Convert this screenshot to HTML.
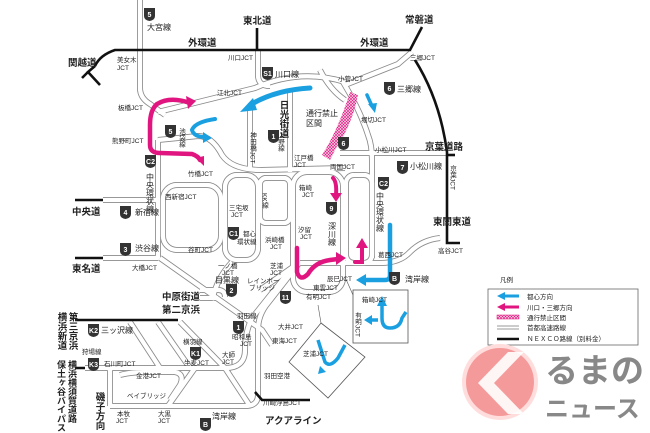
<!DOCTYPE html>
<html><head><meta charset="utf-8"><style>
body{margin:0;background:#fff;width:650px;height:433px;overflow:hidden}
svg{display:block}
text{font-family:"Liberation Sans","Noto Sans CJK JP",sans-serif;fill:#222}
.s{font-size:6.5px}
.m{font-size:8px}
.b{font-size:9.5px;font-weight:bold}
.sh{font-size:7px;fill:#fff;font-weight:bold}
</style></head><body>
<svg width="650" height="433" viewBox="0 0 650 433" xmlns="http://www.w3.org/2000/svg">
<defs>
<pattern id="hatch" width="3" height="3" patternUnits="userSpaceOnUse"><rect width="3" height="3" fill="#f7d0e6"/><path d="M0,0L3,3M3,0L0,3" stroke="#e0157f" stroke-width="0.6"/></pattern>
<g id="roads" fill="none">
<path d="M140,0 V88 Q140,98 150,104 L165,115"/>
<path d="M158,112 L255,88 Q300,68 345,82"/>
<path d="M258,50 V75 Q258,86 270,86"/>
<path d="M345,85 L398,64 L412,52"/>
<path d="M343,82 Q360,110 368,135 Q372,145 372,160 V258"/>
<path d="M158,140 L198,136 Q212,136 222,155 Q232,170 262,170 L345,168"/>
<path d="M158,140 V258"/>
<path d="M103,200 H158"/>
<path d="M103,258 H158"/>
<path d="M340,153 H447"/>
<path d="M160,258 L262,330 L272,345"/>
<rect x="163" y="185" width="58" height="65" rx="14"/>
<rect x="225" y="175" width="33" height="85" rx="12"/>
<rect x="260" y="178" width="30" height="45" rx="6"/>
<rect x="293" y="172" width="50" height="120" rx="14"/>
<rect x="346" y="175" width="26" height="88" rx="8"/>
<path d="M440,238 Q422,240 410,252 Q400,263 380,263 H300"/>
<path d="M300,262 L268,303 Q258,315 258,330 V395 Q258,406 245,406 H110"/>
<path d="M292,268 L252,318 Q245,332 245,350 Q245,368 225,368 H85"/>
<path d="M250,110 V170"/>
<path d="M290,90 V172"/>
<path d="M232,262 Q220,275 215,290 L212,300"/>
<path d="M130,322 L160,368"/>
<path d="M158,322 L190,368"/>
<path d="M180,322 L225,368"/>
<path d="M195,368 L168,406"/>
<path d="M225,368 L250,406"/>
<path d="M110,368 V406"/>
<path d="M120,375 Q130,372 150,372 H175 Q185,374 180,385 L170,400"/>
<path d="M200,290 H218 Q225,290 225,297 M200,298 H218"/>
<path d="M260,290 L300,262"/>
<path d="M320,70 Q330,90 345,100"/>
</g>
</defs>
<use href="#roads" stroke="#8a8a8a" stroke-width="6"/>
<use href="#roads" stroke="#fff" stroke-width="4.3"/>
<path d="M358,95 Q352,125 336,148 L330,160 L322,155 Q338,130 350,92 Z" fill="url(#hatch)"/>
<g stroke="#111" stroke-width="2.6" fill="none">
<path d="M100,85 L88,72 L95,66 M88,72 L82,78 M95,66 Q100,55 115,50 H410 L422,27"/>
<path d="M257,28 V50"/>
<path d="M415,60 Q440,100 447,152 V235"/>
<path d="M447,155 H455"/>
<path d="M447,235 V243 H460"/>
<path d="M75,200 H103 M75,258 H103 M75,320 H178 M75,368 H85"/>
<path d="M255,392 L262,400 H310"/>
</g>
<g fill="none" stroke-linecap="round">
<path d="M190,103 Q170,96 157,104 Q150,110 150,125 V145 Q150,153 160,153 L192,154 Q198,156 200,160" stroke="#e0157f" stroke-width="4.5"/>
<path d="M310,88 Q275,90 250,105" stroke="#1aa0e0" stroke-width="5"/>
<path d="M215,119 Q195,122 192,130 Q194,137 205,137" stroke="#1aa0e0" stroke-width="4"/>
<path d="M367,95 L372,106" stroke="#1aa0e0" stroke-width="3.5"/>
<path d="M390,225 V275 Q390,280 385,280 H365" stroke="#1aa0e0" stroke-width="4.5"/>
<path d="M333,178 Q337,182 336,195" stroke="#e0157f" stroke-width="4"/>
<path d="M297,248 V272 Q300,282 308,274 Q315,262 330,260 L338,259" stroke="#e0157f" stroke-width="4.5"/>
<path d="M355,262 H362 V245" stroke="#e0157f" stroke-width="4"/>
</g>
<g stroke="none">
<polygon points="196,101 186,96 188,109" fill="#e0157f"/>
<polygon points="204,166 196,158 204,156" fill="#e0157f"/>
<polygon points="240,112 253,98 257,110" fill="#1aa0e0"/>
<polygon points="212,138 203,132 203,143" fill="#1aa0e0"/>
<polygon points="375,113 368,104 377,103" fill="#1aa0e0"/>
<polygon points="356,280 366,274 366,286" fill="#1aa0e0"/>
<polygon points="336,202 330,193 342,193" fill="#e0157f"/>
<polygon points="346,258 336,252 336,265" fill="#e0157f"/>
<polygon points="362,238 356,248 368,248" fill="#e0157f"/>
</g>
<rect x="353" y="290" width="55" height="53" fill="#fff" stroke="#555" stroke-width="0.8"/>
<path d="M345,277 L353,295" stroke="#555" stroke-width="0.6"/>
<polygon points="321,323 365,357 328,398 289,362" fill="#fff" stroke="#555" stroke-width="0.8"/>
<path d="M318,305 L321,323" stroke="#555" stroke-width="0.6"/>
<g fill="none" stroke="#1aa0e0" stroke-width="3.5">
<path d="M382,302 V318 Q382,328 390,328 Q400,328 402,318 L406,312 M368,320 H378"/>
<path d="M318,340 L325,362 Q330,368 338,358 L345,345"/>
</g>
<polygon points="382,296 377,306 387,306" fill="#1aa0e0"/>
<polygon points="364,320 372,315 372,325" fill="#1aa0e0"/>
<polygon points="320,366 326,372 318,374" fill="#1aa0e0"/>
<g>
<g transform="translate(144,8)"><path d="M0,0h11v8q0,4-5.5,5q-5.5-1-5.5-5z" fill="#333"/><text x="5.5" y="9" class="sh" text-anchor="middle">5</text></g>
<g transform="translate(262,67)"><path d="M0,0h11v8q0,4-5.5,5q-5.5-1-5.5-5z" fill="#333"/><text x="5.5" y="9" class="sh" text-anchor="middle">S1</text></g>
<g transform="translate(165,125)"><path d="M0,0h11v8q0,4-5.5,5q-5.5-1-5.5-5z" fill="#333"/><text x="5.5" y="9" class="sh" text-anchor="middle">5</text></g>
<g transform="translate(268,130)"><path d="M0,0h11v8q0,4-5.5,5q-5.5-1-5.5-5z" fill="#333"/><text x="5.5" y="9" class="sh" text-anchor="middle">1</text></g>
<g transform="translate(384,82)"><path d="M0,0h11v8q0,4-5.5,5q-5.5-1-5.5-5z" fill="#333"/><text x="5.5" y="9" class="sh" text-anchor="middle">6</text></g>
<g transform="translate(338,137)"><path d="M0,0h11v8q0,4-5.5,5q-5.5-1-5.5-5z" fill="#333"/><text x="5.5" y="9" class="sh" text-anchor="middle">6</text></g>
<g transform="translate(397,161)"><path d="M0,0h11v8q0,4-5.5,5q-5.5-1-5.5-5z" fill="#333"/><text x="5.5" y="9" class="sh" text-anchor="middle">7</text></g>
<g transform="translate(378,177)"><path d="M0,0h11v8q0,4-5.5,5q-5.5-1-5.5-5z" fill="#333"/><text x="5.5" y="9" class="sh" text-anchor="middle">C2</text></g>
<g transform="translate(145,155)"><path d="M0,0h11v8q0,4-5.5,5q-5.5-1-5.5-5z" fill="#333"/><text x="5.5" y="9" class="sh" text-anchor="middle">C2</text></g>
<g transform="translate(120,206)"><path d="M0,0h11v8q0,4-5.5,5q-5.5-1-5.5-5z" fill="#333"/><text x="5.5" y="9" class="sh" text-anchor="middle">4</text></g>
<g transform="translate(120,243)"><path d="M0,0h11v8q0,4-5.5,5q-5.5-1-5.5-5z" fill="#333"/><text x="5.5" y="9" class="sh" text-anchor="middle">3</text></g>
<g transform="translate(228,227)"><path d="M0,0h11v8q0,4-5.5,5q-5.5-1-5.5-5z" fill="#333"/><text x="5.5" y="9" class="sh" text-anchor="middle">C1</text></g>
<g transform="translate(326,202)"><path d="M0,0h11v8q0,4-5.5,5q-5.5-1-5.5-5z" fill="#333"/><text x="5.5" y="9" class="sh" text-anchor="middle">9</text></g>
<g transform="translate(226,284)"><path d="M0,0h11v8q0,4-5.5,5q-5.5-1-5.5-5z" fill="#333"/><text x="5.5" y="9" class="sh" text-anchor="middle">2</text></g>
<g transform="translate(280,291)"><path d="M0,0h11v8q0,4-5.5,5q-5.5-1-5.5-5z" fill="#333"/><text x="5.5" y="9" class="sh" text-anchor="middle">11</text></g>
<g transform="translate(233,321)"><path d="M0,0h11v8q0,4-5.5,5q-5.5-1-5.5-5z" fill="#333"/><text x="5.5" y="9" class="sh" text-anchor="middle">1</text></g>
<g transform="translate(389,272)"><path d="M0,0h11v8q0,4-5.5,5q-5.5-1-5.5-5z" fill="#333"/><text x="5.5" y="9" class="sh" text-anchor="middle">B</text></g>
<g transform="translate(200,418)"><path d="M0,0h11v8q0,4-5.5,5q-5.5-1-5.5-5z" fill="#333"/><text x="5.5" y="9" class="sh" text-anchor="middle">B</text></g>
<g transform="translate(88,324)"><path d="M0,0h11v8q0,4-5.5,5q-5.5-1-5.5-5z" fill="#333"/><text x="5.5" y="9" class="sh" text-anchor="middle">K2</text></g>
<g transform="translate(88,358)"><path d="M0,0h11v8q0,4-5.5,5q-5.5-1-5.5-5z" fill="#333"/><text x="5.5" y="9" class="sh" text-anchor="middle">K3</text></g>
<g transform="translate(190,347)"><path d="M0,0h11v8q0,4-5.5,5q-5.5-1-5.5-5z" fill="#333"/><text x="5.5" y="9" class="sh" text-anchor="middle">K1</text></g>
</g>
<g>
<text x="147" y="30" class="m">大宮線</text>
<text x="243" y="24" class="b">東北道</text>
<text x="405" y="23" class="b">常磐道</text>
<text x="188" y="46" class="b">外環道</text>
<text x="360" y="46" class="b">外環道</text>
<text x="68" y="66" class="b">関越道</text>
<text x="117" y="62" class="s">美女木</text><text x="117" y="70" class="s">JCT</text>
<text x="228" y="60" class="s">川口JCT</text>
<text x="275" y="77" class="m">川口線</text>
<text x="338" y="81" class="s">小菅JCT</text>
<text x="410" y="60" class="s">三郷JCT</text>
<text x="397" y="92" class="m">三郷線</text>
<text x="361" y="122" class="s">堀切JCT</text>
<text x="217" y="95" class="s">江北JCT</text>
<text x="118" y="110" class="s">板橋JCT</text>
<text x="112" y="143" class="s">熊野町JCT</text>
<text x="306" y="116" class="m">通行禁止</text><text x="306" y="126" class="m">区間</text>
<text x="283" y="100" class="b" writing-mode="tb">日光街道</text>
<text x="181" y="128" class="s" writing-mode="tb">池袋線</text>
<text x="280" y="132" class="s" writing-mode="tb">上野線</text>
<text x="252" y="132" class="s" writing-mode="tb">神田橋JCT</text>
<text x="294" y="160" class="s">江戸橋</text><text x="294" y="167" class="s">JCT</text>
<text x="375" y="152" class="s">小松川JCT</text>
<text x="410" y="169" class="m">小松川線</text>
<text x="425" y="150" class="b">京葉道路</text>
<text x="452" y="165" class="s" writing-mode="tb">京葉JCT</text>
<text x="330" y="169" class="s">両国JCT</text>
<text x="380" y="192" class="m" writing-mode="tb">中央環状線</text>
<text x="150" y="173" class="m" writing-mode="tb">中央環状線</text>
<text x="188" y="176" class="s">竹橋JCT</text>
<text x="165" y="199" class="s">西新宿JCT</text>
<text x="72" y="215" class="b">中央道</text>
<text x="135" y="215" class="m">新宿線</text>
<text x="135" y="251" class="m">渋谷線</text>
<text x="72" y="272" class="b">東名道</text>
<text x="132" y="270" class="s">大橋JCT</text>
<text x="188" y="252" class="s">谷町JCT</text>
<text x="229" y="210" class="s">三宅坂</text><text x="231" y="217" class="s">JCT</text>
<text x="243" y="236" class="s">都心</text><text x="237" y="244" class="s">環状線</text>
<text x="264" y="193" class="s" writing-mode="tb">KK線</text>
<text x="265" y="242" class="s">浜崎橋</text><text x="270" y="249" class="s">JCT</text>
<text x="299" y="190" class="s">箱崎</text><text x="302" y="197" class="s">JCT</text>
<text x="298" y="232" class="s">汐留</text><text x="300" y="239" class="s">JCT</text>
<text x="332" y="222" class="m" writing-mode="tb">深川線</text>
<text x="378" y="257" class="s">葛西JCT</text>
<text x="405" y="282" class="m">湾岸線</text>
<text x="433" y="225" class="b">東関東道</text>
<text x="438" y="253" class="s">高谷JCT</text>
<text x="218" y="268" class="s">一ノ橋</text><text x="222" y="275" class="s">JCT</text>
<text x="215" y="283" class="m">目黒線</text>
<text x="270" y="268" class="s">芝浦</text><text x="270" y="275" class="s">JCT</text>
<text x="247" y="283" class="s">レインボー</text><text x="249" y="290" class="s">ブリッジ</text>
<text x="162" y="300" class="b">中原街道</text>
<text x="162" y="313" class="b">第二京浜</text>
<text x="327" y="281" class="s">辰巳JCT</text>
<text x="313" y="290" class="s">東雲JCT</text>
<text x="306" y="299" class="s">有明JCT</text>
<text x="362" y="302" class="s">箱崎JCT</text>
<text x="357" y="312" class="s" writing-mode="tb">有明JCT</text>
<text x="303" y="356" class="s">芝浦JCT</text>
<text x="237" y="318" class="s">羽田線</text>
<text x="278" y="329" class="s">大井JCT</text>
<text x="272" y="343" class="s">東海JCT</text>
<text x="264" y="378" class="s">羽田空港</text>
<text x="263" y="405" class="s">川崎浮島JCT</text>
<text x="265" y="424" class="b">アクアライン</text>
<text x="212" y="419" class="m">湾岸線</text>
<text x="232" y="339" class="s">昭和島</text><text x="240" y="346" class="s">JCT</text>
<text x="222" y="357" class="s">大師</text><text x="222" y="364" class="s">JCT</text>
<text x="183" y="344" class="s">横羽線</text>
<text x="184" y="365" class="s">生麦JCT</text>
<text x="101" y="333" class="m">三ッ沢線</text>
<text x="82" y="354" class="s">狩場線</text>
<text x="104" y="366" class="s">石川町JCT</text>
<text x="136" y="378" class="s">金港JCT</text>
<text x="127" y="398" class="s">ベイブリッジ</text>
<text x="117" y="416" class="s">本牧</text><text x="116" y="423" class="s">JCT</text>
<text x="158" y="416" class="s">大黒</text><text x="158" y="423" class="s">JCT</text>
<text x="99" y="392" class="b" writing-mode="tb">磯子方向</text>
<text x="61" y="312" class="b" writing-mode="tb">横浜新道</text>
<text x="72" y="312" class="b" writing-mode="tb">第三京浜</text>
<text x="61" y="360" class="b" writing-mode="tb" style="font-size:9px">保土ヶ谷バイパス</text>
<text x="72" y="360" class="b" writing-mode="tb" style="font-size:9px">横浜横須賀道路</text>
</g>
<text x="500" y="282" class="s">凡例</text>
<rect x="488" y="289" width="150" height="56" fill="#fff" stroke="#666" stroke-width="0.8"/>
<polygon points="497,296 505,292 505,294.5 519,294.5 519,297.5 505,297.5 505,300" fill="#1aa0e0"/>
<polygon points="497,307 505,303 505,305.5 519,305.5 519,308.5 505,308.5 505,311" fill="#e0157f"/>
<rect x="497" y="315" width="22" height="4" fill="url(#hatch)" stroke="#e0157f" stroke-width="0.5"/>
<path d="M497,326 H519 M497,329 H519" stroke="#777" stroke-width="0.8"/>
<path d="M497,339 H519" stroke="#111" stroke-width="2.5"/>
<text x="527" y="299" class="s">都心方向</text>
<text x="527" y="310" class="s">川口・三郷方向</text>
<text x="527" y="320" class="s">通行禁止区間</text>
<text x="527" y="330" class="s">首都高速路線</text>
<text x="527" y="341" class="s">ＮＥＸＣＯ路線（別料金）</text>
<circle cx="500" cy="382" r="38" fill="#fdd"/>
<circle cx="500" cy="382" r="34" fill="#f59a9a"/>
<polygon points="478,383 508,352 524,352 494,383 524,414 508,414" fill="#fff" opacity="0.9"/>
<text x="545" y="382" style="font-size:33px;font-weight:bold;fill:#888">るまの</text>
<text x="545" y="417" style="font-size:24px;font-weight:bold;fill:#888">ニュース</text>
</svg>
</body></html>
